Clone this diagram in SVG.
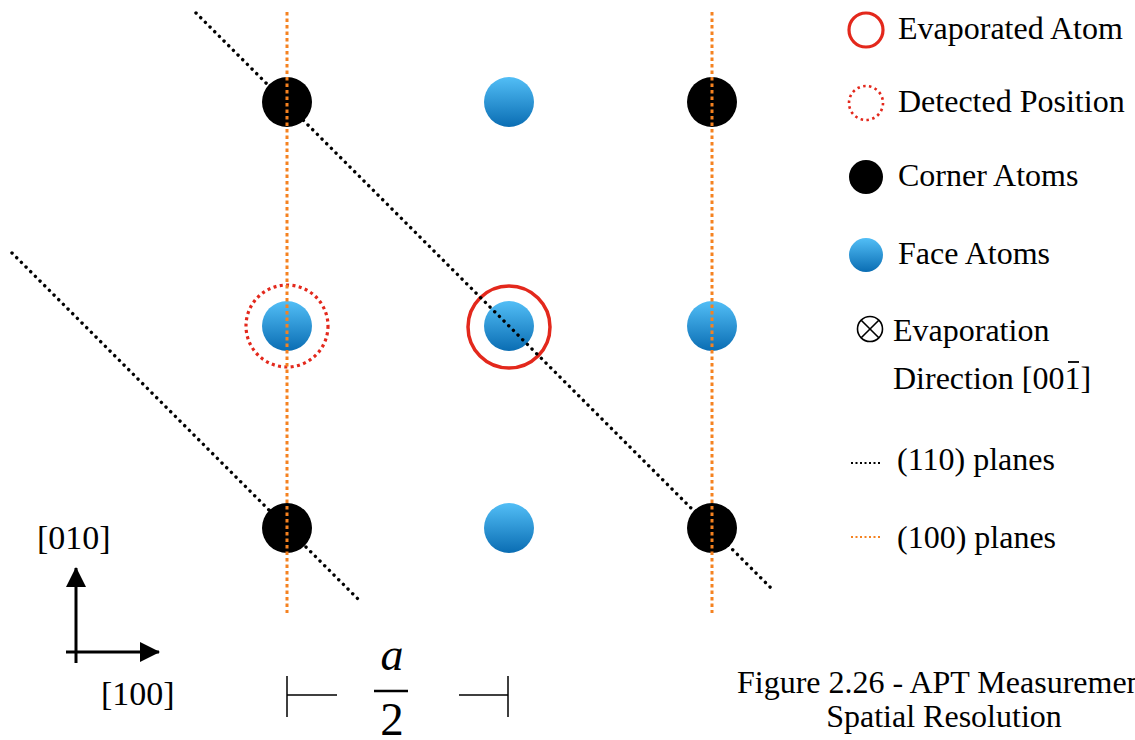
<svg xmlns="http://www.w3.org/2000/svg" width="1135" height="740" viewBox="0 0 1135 740">
<style>
  text { font-family: "Liberation Serif", "Times New Roman", serif; fill: #000; }
  .leg { font-size: 32px; }
  .ax { font-size: 34px; }
  .cap { font-size: 32px; }
  .corner { fill: #000; }
  .face { fill: url(#blueGrad); }
  .p110 { stroke: #000; stroke-width: 3.4; stroke-linecap: round; stroke-dasharray: 0.1 6.5; fill: none; }
  .p100 { stroke: #f58220; stroke-width: 3; stroke-dasharray: 3.5 3; fill: none; }
  .evap { fill: none; stroke: #e3281c; stroke-width: 3.5; }
  .det { fill: none; stroke: #e3281c; stroke-width: 3.2; stroke-dasharray: 3 3.4; }
  .solid { stroke: #000; fill: none; }
</style>
<defs>
  <linearGradient id="blueGrad" x1="0" y1="0" x2="0" y2="1">
    <stop offset="0" stop-color="#52bef6"/>
    <stop offset="1" stop-color="#0a6db3"/>
  </linearGradient>
  <marker id="arr" viewBox="0 0 20 20" refX="19" refY="10" markerWidth="20" markerHeight="20" markerUnits="userSpaceOnUse" orient="auto">
    <path d="M0,0 L20,10 L0,20 Z" fill="#000"/>
  </marker>
</defs>
<rect width="1135" height="740" fill="#fff"/>

<!-- atoms -->
<g id="atom-c1"><circle class="corner" cx="287" cy="102" r="25"/></g>
<g id="atom-f1"><circle class="face" cx="509" cy="102" r="25"/></g>
<g id="atom-c2"><circle class="corner" cx="712" cy="102" r="25"/></g>
<g id="atom-f2"><circle class="face" cx="287" cy="326" r="25"/></g>
<g id="atom-f3"><circle class="face" cx="509" cy="326" r="25"/></g>
<g id="atom-f4"><circle class="face" cx="712" cy="326" r="25"/></g>
<g id="atom-c3"><circle class="corner" cx="287" cy="528" r="25"/></g>
<g id="atom-f5"><circle class="face" cx="509" cy="528" r="25"/></g>
<g id="atom-c4"><circle class="corner" cx="712" cy="528" r="25"/></g>

<g id="detected-position"><circle class="det" cx="287" cy="326" r="41"/></g>
<g id="evaporated-atom"><circle class="evap" cx="509" cy="327" r="41"/></g>

<!-- planes -->
<g id="connectors">
  <line class="p110" x1="196" y1="13" x2="771" y2="588"/>
  <line class="p110" x1="12" y1="253" x2="359" y2="600"/>
  <line class="p100" x1="287" y1="12" x2="287" y2="613"/>
  <line class="p100" x1="712" y1="12" x2="712" y2="613"/>
</g>

<!-- axes -->
<g id="axes">
  <line class="solid" stroke-width="3" x1="76" y1="663" x2="76" y2="568" marker-end="url(#arr)"/>
  <line class="solid" stroke-width="3" x1="66" y1="652" x2="159" y2="652" marker-end="url(#arr)"/>
  <text class="ax" x="37" y="549">[010]</text>
  <text class="ax" x="101" y="705">[100]</text>
</g>

<!-- scale bar -->
<g id="scale">
  <path class="solid" stroke-width="1.5" d="M287,676 V717 M287,695 H337 M459,695 H508 M508,676 V717"/>
  <text x="392" y="670" font-size="46" font-style="italic" text-anchor="middle">a</text>
  <line class="solid" stroke-width="2.5" x1="374" y1="691" x2="408" y2="691"/>
  <text x="392" y="735" font-size="47" text-anchor="middle">2</text>
</g>

<!-- legend -->
<g id="legend-evaporated">
  <circle cx="866" cy="30" r="17" fill="none" stroke="#e3281c" stroke-width="3.2"/>
  <text class="leg" x="898" y="39">Evaporated Atom</text>
</g>
<g id="legend-detected">
  <circle cx="866" cy="103" r="17" fill="none" stroke="#e3281c" stroke-width="2.6" stroke-dasharray="2.5 3.4"/>
  <text class="leg" x="898" y="112">Detected Position</text>
</g>
<g id="legend-corner">
  <circle cx="866" cy="177" r="17" fill="#000"/>
  <text class="leg" x="898" y="186">Corner Atoms</text>
</g>
<g id="legend-face">
  <circle cx="866" cy="255" r="17" fill="url(#blueGrad)"/>
  <text class="leg" x="898" y="264">Face Atoms</text>
</g>
<g id="legend-direction">
  <circle cx="870" cy="329" r="12.5" fill="none" stroke="#000" stroke-width="1.6"/>
  <path d="M861.2,320.2 L878.8,337.8 M878.8,320.2 L861.2,337.8" stroke="#000" stroke-width="1.6" fill="none"/>
  <text class="leg" x="893" y="341">Evaporation</text>
  <text class="leg" x="893" y="389">Direction [001]</text>
  <line x1="1068" y1="362" x2="1079" y2="362" stroke="#000" stroke-width="1.8"/>
</g>
<g id="legend-110">
  <line x1="851" y1="463" x2="882" y2="463" stroke="#000" stroke-width="2" stroke-dasharray="2 2.5"/>
  <text class="leg" x="897" y="470">(110) planes</text>
</g>
<g id="legend-100">
  <line x1="851" y1="537" x2="882" y2="537" stroke="#f58220" stroke-width="2" stroke-dasharray="2 2.5"/>
  <text class="leg" x="897" y="548">(100) planes</text>
</g>

<!-- caption -->
<g id="caption">
  <text class="cap" x="737" y="693">Figure 2.26 - APT Measurement</text>
  <text class="cap" x="944" y="727" text-anchor="middle">Spatial Resolution</text>
</g>
</svg>
